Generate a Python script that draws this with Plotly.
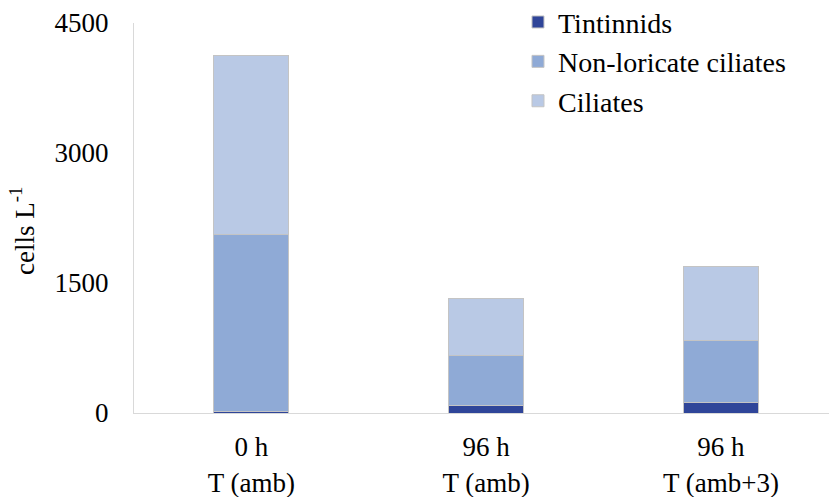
import plotly.graph_objects as go

# Sampling conditions (x-axis categories)
categories = ["0 h<br>T (amb)", "96 h<br>T (amb)", "96 h<br>T (amb+3)"]

# Abundance of each ciliate group, cells per litre (stacked segments)
tintinnids = [12, 84, 123]
non_loricate = [2042, 574, 719]
ciliates = [2069, 661, 854]

y_ticks = [0, 1500, 3000, 4500]

series = [
    ("Tintinnids", tintinnids, "#2F4599"),
    ("Non-loricate ciliates", non_loricate, "#8FAAD6"),
    ("Ciliates", ciliates, "#B9C9E5"),
]

FONT = "Times New Roman, Liberation Serif, DejaVu Serif, serif"
TICK_SIZE = 27
LEGEND_SIZE = 28

fig = go.Figure()
for i, (name, vals, color) in enumerate(series):
    fig.add_trace(go.Bar(
        x=categories,
        y=vals,
        name=name,
        legendgroup=f"g{i}",
        marker=dict(color=color, line=dict(color="#C4C4C4", width=1)),
    ))

# y-axis title placed as a rotated annotation left of the tick labels
fig.add_annotation(
    text="cells L<sup>-1</sup>",
    textangle=-90,
    xref="paper", yref="paper",
    x=-0.161, y=0.467,
    xanchor="center", yanchor="middle",
    showarrow=False,
    font=dict(family=FONT, size=TICK_SIZE, color="black"),
)

fig.update_layout(
    width=829,
    height=497,
    barmode="stack",
    bargap=0.68,
    plot_bgcolor="white",
    paper_bgcolor="white",
    margin=dict(l=134, r=0, t=23, b=84, autoexpand=False),
    font=dict(family=FONT, size=TICK_SIZE, color="black"),
    showlegend=True,
    legend=dict(
        x=0.5525, xanchor="left",
        y=1.066, yanchor="top",
        traceorder="normal",
        tracegroupgap=0,
        font=dict(family=FONT, size=LEGEND_SIZE, color="black"),
        bgcolor="rgba(0,0,0,0)",
        itemclick=False,
    ),
    xaxis=dict(
        range=[-0.5, 2.46],
        showline=True,
        linecolor="#D9D9D9",
        linewidth=1,
        ticks="",
        showgrid=False,
        zeroline=False,
        tickfont=dict(family=FONT, size=TICK_SIZE, color="black"),
        ticklabelstandoff=10,
    ),
    yaxis=dict(
        range=[0, 4500],
        tickvals=y_ticks,
        ticktext=[str(v) for v in y_ticks],
        showline=True,
        linecolor="#D9D9D9",
        linewidth=1,
        ticks="",
        showgrid=False,
        zeroline=False,
        tickfont=dict(family=FONT, size=TICK_SIZE, color="black"),
        ticklabelstandoff=19,
    ),
)

fig.write_html("out.html")
